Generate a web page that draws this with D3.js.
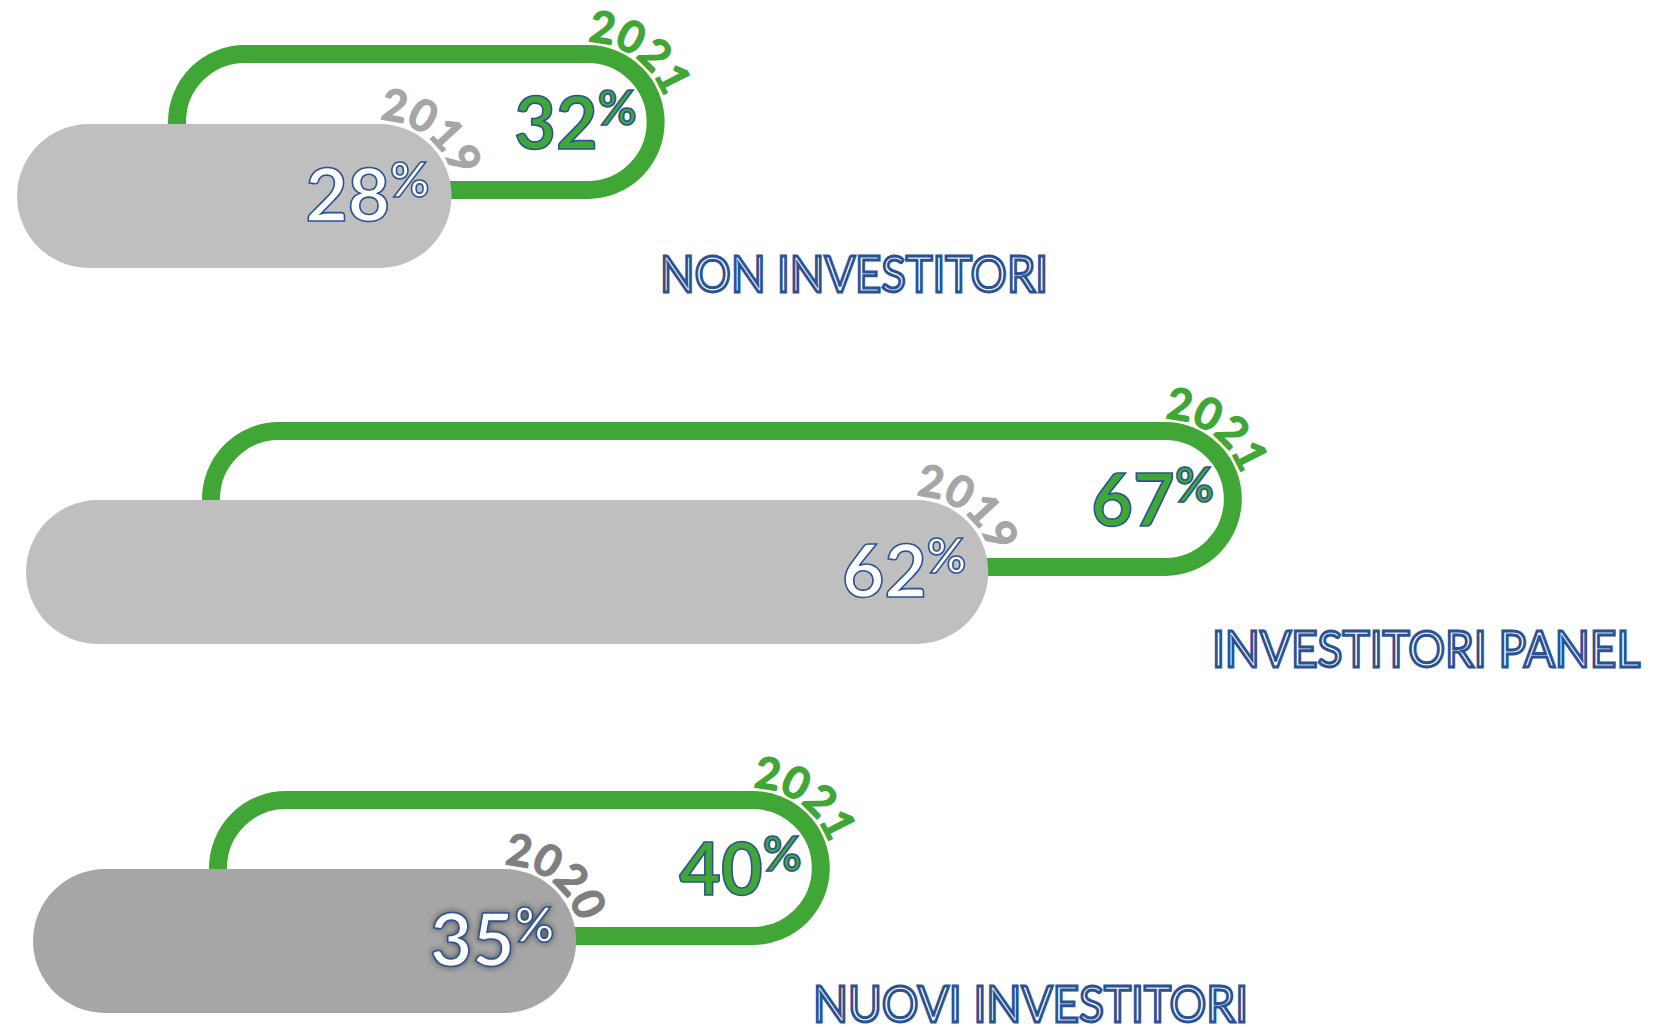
<!DOCTYPE html>
<html>
<head>
<meta charset="utf-8">
<script src="https://cdn.jsdelivr.net/npm/d3@7"></script>
<style>
    html, body { margin: 0; padding: 0; background: #ffffff; }
    svg { display: block; }
</style>
</head>
<body>
<svg id="chart" width="1664" height="1027"></svg>
<script>
// data
var categories = ["NON INVESTITORI", "INVESTITORI PANEL", "NUOVI INVESTITORI"];
var prevYears = ["2019", "2019", "2020"];
var prevValues = [28, 62, 35];
var currYears = ["2021", "2021", "2021"];
var currValues = [32, 67, 40];

// layout of each row (pixels)
var greyX0 = [17, 26, 33];
var greyTop = [124, 500, 869];
var greenX0 = [168, 202, 209];
var greenTop = [45, 422, 791];
var labelPos = [[660, 292, 388], [1212, 667, 428], [813, 1022, 435]];

var pillH = 144, ringH = 154, ringW = 18;
var green = "#40a636", blue = "#2a5294";
var greyFill = ["#bfbfbf", "#bfbfbf", "#a6a6a6"];
var yearGrey = ["#a6a6a6", "#a6a6a6", "#7f7f7f"];
var font = "Lato, 'Open Sans', sans-serif";

var svg = d3.select("#chart");

var w = d3.scaleLinear().domain([0, 100]).range([0, 1552]);

var defs = svg.append("defs");
var f = defs.append("filter").attr("id", "glow").attr("x", "-20%").attr("y", "-20%").attr("width", "140%").attr("height", "140%");
f.append("feDropShadow").attr("dx", 0).attr("dy", 0).attr("stdDeviation", 3)
    .attr("flood-color", "#222").attr("flood-opacity", 0.7);

// arc path (clockwise from top of the cap) used for the year labels
function capArc(cx, cy, r) {
    var a0 = 0, a1 = Math.PI * 0.85;
    var x0 = cx + r * Math.sin(a0), y0 = cy - r * Math.cos(a0);
    var x1 = cx + r * Math.sin(a1), y1 = cy - r * Math.cos(a1);
    return "M" + x0 + "," + y0 + " A" + r + "," + r + " 0 0 1 " + x1 + "," + y1;
}

function pctText(g, x, y, value, fill, size) {
    var t = g.append("text")
        .attr("x", x).attr("y", y)
        .attr("text-anchor", "end")
        .attr("font-family", font)
        .attr("font-weight", 700)
        .attr("fill", fill)
        .attr("stroke", blue)
        .attr("stroke-width", 1.6);
    t.append("tspan").attr("font-size", size).text(value);
    t.append("tspan").attr("font-size", size * 0.66).attr("dy", -size * 0.33).text("%");
    return t;
}

function yearText(g, id, txt, col) {
    g.append("text")
        .attr("font-family", font).attr("font-weight", 700)
        .attr("font-size", 44).attr("fill", col)
        .attr("stroke", col).attr("stroke-width", 1.2)
        .attr("letter-spacing", -0.5)
        .append("textPath").attr("href", "#" + id).text(txt);
}

for (var i = 0; i < categories.length; i++) {
    var g = svg.append("g").attr("class", "row");

    // 2021 ring (stadium outline)
    var gx = greenX0[i], gw = w(currValues[i]);
    g.append("rect")
        .attr("x", gx + ringW / 2).attr("y", greenTop[i] + ringW / 2)
        .attr("width", gw - ringW).attr("height", ringH - ringW)
        .attr("rx", (ringH - ringW) / 2).attr("ry", (ringH - ringW) / 2)
        .attr("fill", "none")
        .attr("stroke", green)
        .attr("stroke-width", ringW);

    // previous year pill
    var px = greyX0[i], pw = w(prevValues[i]);
    g.append("rect")
        .attr("x", px).attr("y", greyTop[i])
        .attr("width", pw).attr("height", pillH)
        .attr("rx", pillH / 2).attr("ry", pillH / 2)
        .attr("fill", greyFill[i]);

    // year labels along the caps
    var gcx = gx + gw - ringH / 2, gcy = greenTop[i] + ringH / 2;
    defs.append("path").attr("id", "arcG" + i).attr("d", capArc(gcx, gcy, ringH / 2 + 3));
    yearText(g, "arcG" + i, currYears[i], green);

    var pcx = px + pw - pillH / 2, pcy = greyTop[i] + pillH / 2;
    defs.append("path").attr("id", "arcP" + i).attr("d", capArc(pcx, pcy, pillH / 2 + 4));
    yearText(g, "arcP" + i, prevYears[i], yearGrey[i]);

    // values
    pctText(g, gx + gw - 28, gcy + 27, currValues[i], green, 72);
    var pt = pctText(g, px + pw - 22, pcy + 25, prevValues[i], "#ffffff", 73);
    if (i == 2) pt.attr("filter", "url(#glow)");

    // category label
    g.append("text")
        .attr("x", labelPos[i][0]).attr("y", labelPos[i][1])
        .attr("textLength", labelPos[i][2]).attr("lengthAdjust", "spacingAndGlyphs")
        .attr("font-family", font).attr("font-size", 50)
        .attr("fill", "#ffffff")
        .attr("stroke", blue).attr("stroke-width", 3)
        .text(categories[i]);
}
</script>
</body>
</html>
